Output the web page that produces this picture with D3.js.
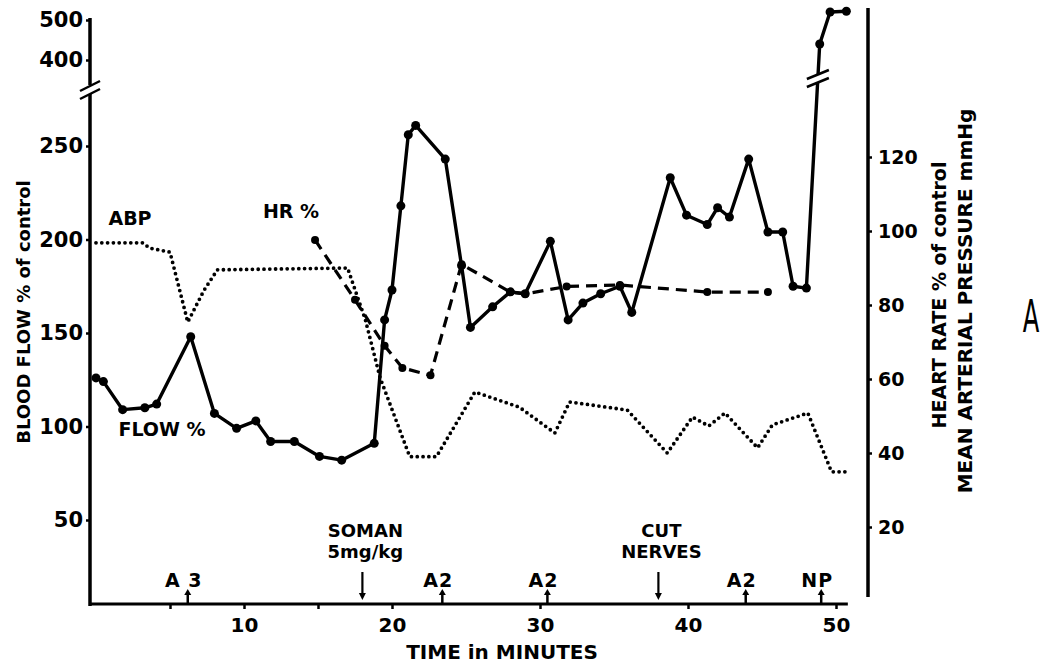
<!DOCTYPE html>
<html>
<head>
<meta charset="utf-8">
<title>blood flow after soman</title>
<script src="https://d3js.org/d3.v7.min.js"></script>
<style>
body { margin: 0; background: #fff; }
text { font-family: "DejaVu Sans", sans-serif; font-weight: bold; fill: #000; }
</style>
</head>
<body>
<svg width="1048" height="668"></svg>
<script>
// flow (% of control), solid line with dots; values above the break use the upper scale
var flowTime = [0, 0.5, 1.8, 3.3, 4.1, 6.4, 8.0, 9.5, 10.8, 11.8, 13.4, 15.1, 16.6, 18.8, 19.5, 20.0,
    20.6, 21.1, 21.6, 23.6, 24.7, 25.3, 26.8, 28.0, 29.0, 30.7, 31.9, 32.9, 34.1, 35.4, 36.2,
    38.8, 39.9, 41.3, 42.0, 42.8, 44.1, 45.4, 46.4, 47.1, 48.0, 48.9, 49.6, 50.7];
var flowPct = [126, 124, 109, 110, 112, 148, 107, 99, 103, 92, 92, 84, 82, 91, 157, 173,
    218, 256, 261, 243, 186, 153, 164, 172, 171, 199, 157, 166, 171, 175, 161,
    233, 213, 208, 217, 212, 243, 204, 204, 175, 174, 440, 520, 522];

// heart rate (% of control), dashed with dots, right axis
var hrTime = [14.8, 17.5, 19.5, 20.7, 22.6, 24.7, 28.0, 29.0, 31.8, 35.4, 41.3, 45.4];
var hrPct = [97.6, 81.4, 69, 63, 61, 91, 83.5, 83, 85, 85.4, 83.5, 83.5];

// mean arterial pressure (mmHg), dotted, right axis
var abpTime = [0, 3.2, 3.6, 5.0, 6.2, 7.3, 8.2, 17.0, 18.2, 19.2, 21.2, 23.0, 25.6, 28.6, 31.0,
    32.0, 35.9, 38.6, 40.3, 41.4, 42.5, 44.7, 45.7, 48.1, 49.7, 50.9];
var abpMmHg = [96.8, 96.8, 95.4, 94.3, 75.4, 84, 89.5, 90, 76, 60.3, 39, 39, 56.5, 52.4, 45.4,
    53.8, 51.6, 40, 49.7, 47.3, 50.8, 41.4, 47.6, 50.8, 34.9, 34.9];

var flowTicksLow = [50, 100, 150, 200, 250];
var flowTicksHigh = [400, 500];
var rightTicks = [20, 40, 60, 80, 100, 120];
var timeTicks = [5, 10, 15, 20, 30, 40, 50];

var eventTime = [6.2, 18, 23.4, 30.5, 38, 43.9, 49];
var eventText = [["A 3"], ["SOMAN", "5mg/kg"], ["A2"], ["A2"], ["CUT", "NERVES"], ["A2"], ["NP"]];
var eventDir = ["up", "down", "up", "up", "down", "up", "up"];

var svg = d3.select("svg");
var axisY = 604, leftX = 90, rightX = 868, breakY = 90;

var x = d3.scaleLinear().domain([0, 50]).range([96, 836]);
var yLow = d3.scaleLinear().domain([50, 250]).range([520, 146]);
var yHigh = d3.scaleLinear().domain([400, 500]).range([60, 20]);
var yR = d3.scaleLinear().domain([20, 120]).range([527, 157]);
function yFlow(v) { return v > 300 ? yHigh(v) : yLow(v); }

function styleAxis(g, size) {
    g.attr("font-size", size);
    g.select(".domain").remove();
    g.selectAll(".tick line").attr("stroke-width", 2.5);
}

// left axis, lower and upper parts
svg.append("g").attr("transform", "translate(" + leftX + ",0)")
    .call(d3.axisLeft(yLow).tickValues(flowTicksLow).tickSize(4).tickPadding(3))
    .call(styleAxis, 21);
svg.append("g").attr("transform", "translate(" + leftX + ",0)")
    .call(d3.axisLeft(yHigh).tickValues(flowTicksHigh).tickSize(4).tickPadding(3))
    .call(styleAxis, 21);
svg.append("line").attr("x1", leftX).attr("x2", leftX).attr("y1", axisY + 2).attr("y2", breakY + 4)
    .attr("stroke", "#000").attr("stroke-width", 3.5);
svg.append("line").attr("x1", leftX).attr("x2", leftX).attr("y1", breakY - 5).attr("y2", 18)
    .attr("stroke", "#000").attr("stroke-width", 3.5);
[breakY - 4, breakY + 4].forEach(function (b) {
    svg.append("line").attr("x1", leftX - 10).attr("y1", b + 5).attr("x2", leftX + 10).attr("y2", b - 5)
        .attr("stroke", "#000").attr("stroke-width", 2.5);
});

// right axis
svg.append("g").attr("transform", "translate(" + rightX + ",0)")
    .call(d3.axisRight(yR).tickValues(rightTicks).tickSize(4).tickPadding(6))
    .call(styleAxis, 19);
svg.append("line").attr("x1", rightX).attr("x2", rightX).attr("y1", 8).attr("y2", 597)
    .attr("stroke", "#000").attr("stroke-width", 3.5);

// bottom axis
svg.append("g").attr("transform", "translate(0," + axisY + ")")
    .call(d3.axisBottom(x).tickValues(timeTicks).tickSize(5).tickPadding(9)
        .tickFormat(function (d) { return d % 10 === 0 ? d : ""; }))
    .call(styleAxis, 20);
svg.append("line").attr("x1", leftX).attr("x2", x(50.8)).attr("y1", axisY).attr("y2", axisY)
    .attr("stroke", "#000").attr("stroke-width", 3);

// series
var flowPts = flowTime.map(function (t, i) { return [x(t), yFlow(flowPct[i])]; });
var hrPts = hrTime.map(function (t, i) { return [x(t), yR(hrPct[i])]; });
var abpPts = abpTime.map(function (t, i) { return [x(t), yR(abpMmHg[i])]; });
var line = d3.line();

svg.append("path").attr("d", line(abpPts)).attr("fill", "none").attr("stroke", "#000")
    .attr("stroke-width", 3.8).attr("stroke-linecap", "round").attr("stroke-dasharray", "0,5.8");

svg.append("path").attr("d", line(hrPts)).attr("fill", "none").attr("stroke", "#000")
    .attr("stroke-width", 3.2).attr("stroke-dasharray", "11,7");
svg.selectAll("circle.hr").data(hrPts).enter().append("circle").attr("class", "hr")
    .attr("cx", function (d) { return d[0]; }).attr("cy", function (d) { return d[1]; }).attr("r", 4);

svg.append("path").attr("d", line(flowPts)).attr("fill", "none").attr("stroke", "#000")
    .attr("stroke-width", 3.4).attr("stroke-linejoin", "round");
svg.selectAll("circle.flow").data(flowPts).enter().append("circle").attr("class", "flow")
    .attr("cx", function (d) { return d[0]; }).attr("cy", function (d) { return d[1]; }).attr("r", 4.5);

// break mark on the flow line where it jumps to the upper scale
var jump = flowPct.findIndex(function (v) { return v > 300; });
var p0 = flowPts[jump - 1], p1 = flowPts[jump];
var bx = p0[0] + (p1[0] - p0[0]) * (p0[1] - 78) / (p0[1] - p1[1]);
svg.append("rect").attr("x", bx - 6).attr("y", 74).attr("width", 12).attr("height", 8).attr("fill", "#fff");
[74, 82].forEach(function (b) {
    svg.append("line").attr("x1", bx - 11).attr("y1", b + 5).attr("x2", bx + 11).attr("y2", b - 4)
        .attr("stroke", "#000").attr("stroke-width", 2.5);
});

// events along the time axis
eventTime.forEach(function (t, i) {
    var ex = x(t);
    if (eventDir[i] === "up") {
        svg.append("line").attr("x1", ex).attr("x2", ex).attr("y1", axisY).attr("y2", axisY - 12)
            .attr("stroke", "#000").attr("stroke-width", 2.5);
        svg.append("path").attr("d", "M" + (ex - 3.5) + "," + (axisY - 9) + "L" + ex + "," + (axisY - 15) + "L" + (ex + 3.5) + "," + (axisY - 9) + "Z");
        svg.append("text").attr("x", ex - 4).attr("y", 587).attr("text-anchor", "middle")
            .attr("font-size", 19).attr("letter-spacing", 1).text(eventText[i][0]);
    } else {
        svg.append("line").attr("x1", ex).attr("x2", ex).attr("y1", 572).attr("y2", axisY - 8)
            .attr("stroke", "#000").attr("stroke-width", 2.2);
        svg.append("path").attr("d", "M" + (ex - 3.5) + "," + (axisY - 11) + "L" + ex + "," + (axisY - 4) + "L" + (ex + 3.5) + "," + (axisY - 11) + "Z");
        eventText[i].forEach(function (s, k) {
            svg.append("text").attr("x", ex + 3).attr("y", 537 + k * 21).attr("text-anchor", "middle")
                .attr("font-size", 18).text(s);
        });
    }
});

// series labels
svg.append("text").attr("x", 130).attr("y", 225).attr("text-anchor", "middle").attr("font-size", 19).text("ABP");
svg.append("text").attr("x", 291).attr("y", 218).attr("text-anchor", "middle").attr("font-size", 19).text("HR %");
svg.append("text").attr("x", 162).attr("y", 436).attr("text-anchor", "middle").attr("font-size", 19).text("FLOW %");

// axis titles
svg.append("text").attr("transform", "translate(30,312) rotate(-90)").attr("text-anchor", "middle")
    .attr("font-size", 18).text("BLOOD FLOW % of control");
svg.append("text").attr("transform", "translate(946,295) rotate(-90)").attr("text-anchor", "middle")
    .attr("font-size", 19).text("HEART RATE % of control");
svg.append("text").attr("transform", "translate(972,301) rotate(-90)").attr("text-anchor", "middle")
    .attr("font-size", 20).text("MEAN ARTERIAL PRESSURE mmHg");
svg.append("text").attr("x", 502).attr("y", 659).attr("text-anchor", "middle")
    .attr("font-size", 20).text("TIME in MINUTES");

svg.append("text").attr("transform", "translate(1031,332) scale(0.55,1)").attr("text-anchor", "middle")
    .attr("font-size", 44).style("font-weight", "normal").text("A");
</script>
</body>
</html>
